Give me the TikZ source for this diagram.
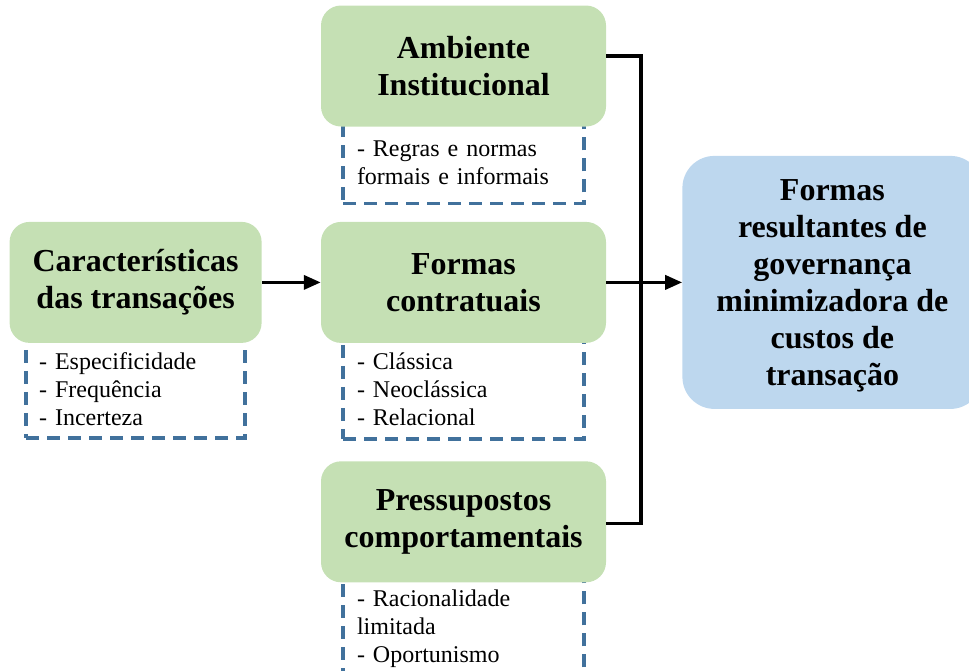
\documentclass[tikz,border=0pt]{standalone}
\usepackage{fontspec}
\setmainfont{Liberation Serif}
\usetikzlibrary{arrows.meta,positioning,backgrounds}

\definecolor{boxgreen}{RGB}{197,224,180}
\definecolor{boxblue}{RGB}{189,215,238}
\definecolor{dashblue}{RGB}{65,113,156}

\begin{document}
\begin{tikzpicture}
[x=1pt,y=-1pt,>={Triangle[length=17pt,width=14pt]},
 conn/.style={draw=black,line width=3.5pt},
 gbox/.style={fill=boxgreen,rounded corners=20pt,minimum width=285pt,minimum height=121pt,
   inner sep=0pt,align=center,font=\fontsize{32}{37}\selectfont\bfseries},
 resbox/.style={fill=boxblue,rounded corners=32pt,minimum width=300pt,minimum height=253pt,
   inner sep=0pt,align=center,font=\fontsize{32}{37}\selectfont\bfseries},
 listbox/.style={draw=dashblue,line width=3.5pt,dash pattern=on 13pt off 8pt,
   inner xsep=14pt,text width=213pt,align=left,font=\fontsize{24}{28}\selectfont}]
  \path[use as bounding box,clip] (0,0) rectangle (969,670);

  \node[gbox] (amb) at (463.5,66) {Ambiente\\Institucional};
  \node[gbox] (form) [below=95pt of amb] {Formas\\contratuais};
  \node[gbox] (pres) [below=118pt of form] {Pressupostos\\comportamentais};
  \node[gbox,minimum width=252pt] (carac) [left=59pt of form] {Características\\das transações};
  \node[resbox] (res) [right=76pt of form] {\\[-10pt]Formas\\resultantes de\\governança\\minimizadora de\\custos de\\transação};

  \begin{pgfonlayer}{background}
  \node[listbox,minimum height=82pt] (ambL) [below=-7pt of amb]
    {- Regras e normas\\formais e informais};
  \node[listbox,minimum height=100pt] (formL) [below=-6pt of form]
    {- Clássica\\- Neoclássica\\- Relacional};
  \node[listbox,minimum height=100pt] (presL) [below=-6pt of pres]
    {- Racionalidade\\limitada\\- Oportunismo};
  \node[listbox,minimum height=98pt,inner xsep=13pt,text width=193pt] (caracL) [below=-5pt of carac]
    {- Especificidade\\- Frequência\\- Incerteza};
  \end{pgfonlayer}

  \coordinate (jn) at (641,282);
  \draw[conn] ([yshift=10pt]amb.east) -| (jn) |- ([yshift=-1.5pt]pres.east);
  \draw[conn,->] (form.east) -- (res.west);
  \draw[conn,->] (carac.east) -- (form.west);
\end{tikzpicture}
\end{document}
